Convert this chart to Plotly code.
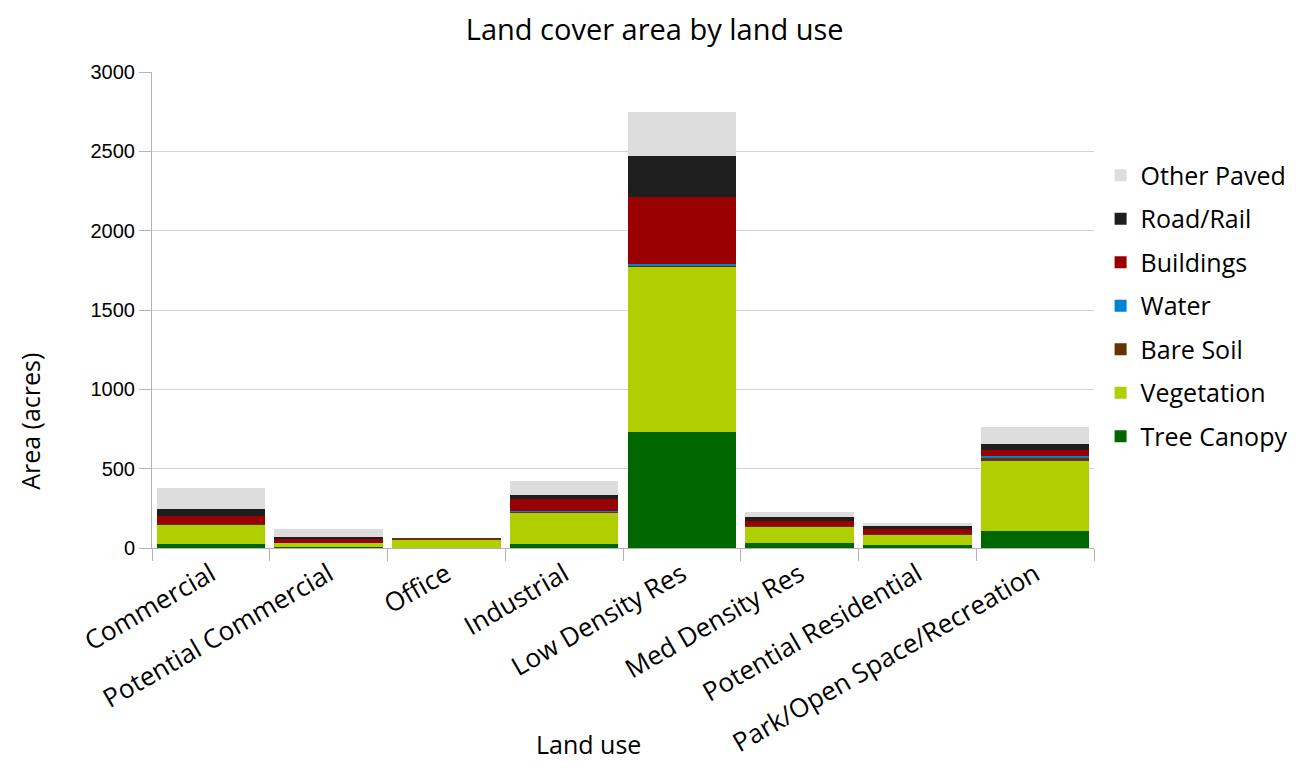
import plotly.graph_objects as go

categories = ["Commercial", "Potential Commercial", "Office", "Industrial",
              "Low Density Res", "Med Density Res", "Potential Residential",
              "Park/Open Space/Recreation"]

tree_canopy = [27, 8, 0, 27, 731, 31, 19, 109]
vegetation = [124, 25, 55, 192, 1041, 103, 67, 441]
bare_soil = [2, 1, 2, 14, 10, 3, 1, 15]
water = [0, 0, 0, 1, 5, 0, 0, 15]
buildings = [47, 24, 0, 72, 426, 33, 34, 38]
road_rail = [44, 10, 0, 25, 259, 27, 19, 38]
other_paved = [134, 51, 0, 92, 273, 28, 20, 105]

series = [
    ("Tree Canopy", tree_canopy, "#006600"),
    ("Vegetation", vegetation, "#b0cf00"),
    ("Bare Soil", bare_soil, "#663300"),
    ("Water", water, "#0084d1"),
    ("Buildings", buildings, "#990000"),
    ("Road/Rail", road_rail, "#1e1e1e"),
    ("Other Paved", other_paved, "#dddddd"),
]

fig = go.Figure()
n = len(series)
for i, (name, vals, color) in enumerate(series):
    fig.add_trace(go.Bar(
        x=categories, y=vals, name=name, legendgroup=name,
        legendrank=1000 + (n - i),
        marker=dict(color=color, line=dict(width=0)),
    ))

lab_font = "Open Sans, Noto Sans, sans-serif"

fig.update_layout(
    width=1296, height=768,
    barmode="stack", bargap=0.08,
    paper_bgcolor="white", plot_bgcolor="white",
    margin=dict(l=144, r=210, t=64, b=228, autoexpand=False),
    title=dict(text="Land cover area by land use", x=0.499, xanchor="center",
               y=0.972, yanchor="middle",
               font=dict(family=lab_font, size=29, color="#000000")),
    legend=dict(x=1.007, xanchor="left", y=0.831, yanchor="top",
                traceorder="grouped", tracegroupgap=8,
                font=dict(family=lab_font, size=25, color="#000000"),
                bgcolor="rgba(0,0,0,0)"),
    xaxis=dict(
        tickangle=-30, tickson="boundaries", ticks="outside", ticklen=12,
        tickcolor="#b3b3b3", showline=True, linecolor="#b3b3b3", linewidth=1,
        showgrid=False,
        tickfont=dict(family=lab_font, size=26, color="#000000"),
    ),
    yaxis=dict(
        range=[0, 3000], tickvals=[0, 500, 1000, 1500, 2000, 2500, 3000],
        ticks="outside", ticklen=12, tickcolor="#b3b3b3",
        showline=True, linecolor="#b3b3b3", linewidth=1,
        showgrid=True, gridcolor="#d3d3d3", gridwidth=1, zeroline=False,
        tickfont=dict(family="Liberation Sans Narrow, Liberation Sans, Arial", size=20, color="#000000"),
    ),
    annotations=[
        dict(text="Land use", xref="paper", yref="paper", x=0.463, y=-0.412,
             xanchor="center", yanchor="middle", showarrow=False,
             font=dict(family=lab_font, size=25, color="#000000")),
        dict(text="Area (acres)", xref="paper", yref="paper", x=-0.1295, y=0.265,
             xanchor="center", yanchor="middle", showarrow=False, textangle=-90,
             font=dict(family=lab_font, size=25, color="#000000")),
    ],
)

fig.write_html("out.html")
